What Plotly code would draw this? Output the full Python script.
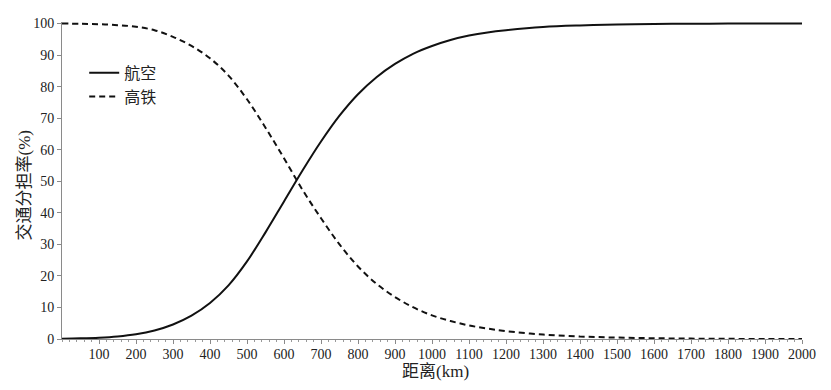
import plotly.graph_objects as go

# distance (km)
distance_km = [0, 50, 100, 150, 200, 250, 300, 350, 400, 450, 500, 550, 600, 650,
               700, 750, 800, 850, 900, 950, 1000, 1050, 1100, 1150, 1200, 1300, 1400, 1500,
               1600, 1700, 1800, 1900, 2000]

# 航空 share (%)
air_share = [0.1, 0.2, 0.4, 0.8, 1.5, 2.7, 4.6, 7.4, 11.4, 17.0, 24.6, 33.8, 43.6, 53.4,
             62.6, 70.8, 77.6, 83.0, 87.2, 90.5, 92.9, 94.8, 96.2, 97.2, 97.9, 98.9, 99.4, 99.7,
             99.85, 99.95, 100.0, 100.0, 100.0]

# 高铁 share (%)
hsr_share = [100.0, 99.95, 99.8, 99.5, 99.0, 97.9, 95.8, 92.9, 89.0, 83.5, 76.0, 67.0, 57.3, 47.3,
             38.3, 30.0, 23.0, 17.5, 13.3, 10.0, 7.5, 5.7, 4.3, 3.3, 2.5, 1.4, 0.8, 0.45,
             0.25, 0.12, 0.05, 0.0, 0.0]

x_ticks = list(range(100, 2001, 100))
y_ticks = list(range(0, 101, 10))

SERIF = "Liberation Serif"
MIXED = "Liberation Serif, Noto Sans CJK SC"

fig = go.Figure()
fig.add_trace(go.Scatter(
    x=distance_km, y=air_share, name="航空", mode="lines",
    line=dict(color="#111111", width=2, shape="spline", smoothing=1.0),
))
fig.add_trace(go.Scatter(
    x=distance_km, y=hsr_share, name="高铁", mode="lines",
    line=dict(color="#111111", width=2, dash="6px,4px", shape="spline", smoothing=1.0),
))

fig.update_layout(
    template="none",
    width=831, height=390,
    margin=dict(l=62, r=29, t=22, b=51),
    paper_bgcolor="white", plot_bgcolor="white",
    font=dict(family=SERIF, size=14, color="#222222"),
    showlegend=True,
    legend=dict(
        x=0.03, y=0.893, xanchor="left", yanchor="top",
        bgcolor="rgba(0,0,0,0)", font=dict(family=MIXED, size=16, color="#222222"),
        tracegroupgap=0, itemwidth=30,
    ),
    xaxis=dict(
        range=[0, 2000], tickvals=x_ticks, ticktext=[str(v) for v in x_ticks],
        showgrid=False, zeroline=False,
        showline=True, linecolor="#8a8a8a", linewidth=1,
        ticks="outside", ticklen=4, tickcolor="#8a8a8a",
        ticklabelstandoff=-2,
        minor=dict(dtick=20, ticks="outside", ticklen=2, tickcolor="#9a9a9a", showgrid=False),
        tickfont=dict(family=SERIF, size=14, color="#222222"),
    ),
    yaxis=dict(
        range=[0, 100.5], tickvals=y_ticks, ticktext=[str(v) for v in y_ticks],
        showgrid=False, zeroline=False,
        showline=True, linecolor="#8a8a8a", linewidth=1,
        ticks="outside", ticklen=4, tickcolor="#8a8a8a",
        tickfont=dict(family=SERIF, size=14, color="#222222"),
    ),
    annotations=[
        dict(text="距离(km)", xref="paper", yref="paper", x=0.505, y=-0.104,
             xanchor="center", yanchor="middle", showarrow=False,
             font=dict(family=MIXED, size=17, color="#222222")),
        dict(text="交通分担率(%)", xref="paper", yref="paper", x=-0.051, y=0.485,
             xanchor="center", yanchor="middle", showarrow=False, textangle=-90,
             font=dict(family=MIXED, size=17, color="#222222")),
    ],
)

fig.write_html("out.html", config={"displayModeBar": False},
               post_script="document.body.style.margin='0';")
